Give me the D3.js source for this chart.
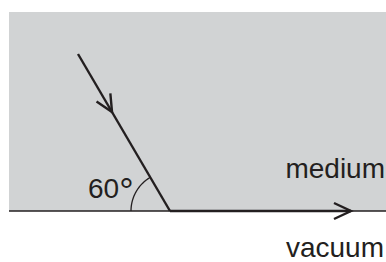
<!DOCTYPE html>
<html>
<head>
<meta charset="utf-8">
<script src="https://cdn.jsdelivr.net/npm/d3@7"></script>
<style>
  body { margin: 0; padding: 0; background: #fff; }
  svg { display: block; }
  text { font-family: "Liberation Sans", Arial, sans-serif; fill: #231f20; }
</style>
</head>
<body>
<svg id="diagram" width="386" height="262"></svg>
<script>
// diagram values (units: px-like diagram units, origin at point of incidence)
const mediumBox = [-161, 216, 0, 199];      // xmin, xmax, ymin, ymax of shaded medium
const incidentStart = [-92, 157];          // start of incoming ray
const refractedEnd = [181, 0];             // end of ray along the boundary
const angleDeg = 60;                        // angle between ray and boundary
const arcRadius = 39;
const labels = ["60", "°", "medium", "vacuum"];

const svg = d3.select("#diagram");
const x = d3.scaleLinear().domain([mediumBox[0], mediumBox[1]]).range([9, 386]);
const y = d3.scaleLinear().domain([mediumBox[2], mediumBox[3]]).range([211, 12]);
const ink = "#231f20";

// shaded medium
svg.append("rect")
  .attr("x", x(mediumBox[0])).attr("y", y(mediumBox[3]))
  .attr("width", x(mediumBox[1]) - x(mediumBox[0]))
  .attr("height", y(mediumBox[2]) - y(mediumBox[3]))
  .attr("fill", "#d1d3d4");

// boundary
svg.append("line")
  .attr("x1", x(mediumBox[0])).attr("x2", x(mediumBox[1]))
  .attr("y1", y(0)).attr("y2", y(0))
  .attr("stroke", ink).attr("stroke-width", 1.3);

// incident ray
svg.append("line")
  .attr("x1", x(incidentStart[0])).attr("y1", y(incidentStart[1]))
  .attr("x2", x(0)).attr("y2", y(0))
  .attr("stroke", ink).attr("stroke-width", 2.4);

// ray along boundary
svg.append("line")
  .attr("x1", x(0)).attr("y1", y(0))
  .attr("x2", x(refractedEnd[0])).attr("y2", y(refractedEnd[1]))
  .attr("stroke", ink).attr("stroke-width", 2.6);

// open arrowheads
function arrowHead(px, py, dx, dy) {
  const len = Math.hypot(dx, dy), ux = dx / len, uy = dy / len;
  const back = 17, half = 8;
  const bx = px - ux * back, by = py - uy * back;
  const pts = [[bx - uy * half, by + ux * half], [px, py], [bx + uy * half, by - ux * half]];
  svg.append("path")
    .attr("d", d3.line()(pts))
    .attr("fill", "none").attr("stroke", ink)
    .attr("stroke-width", 2.4).attr("stroke-linejoin", "miter");
}
const sx = x(incidentStart[0]), sy = y(incidentStart[1]);
const ex = x(0), ey = y(0);
const f = 0.37;
arrowHead(sx + (ex - sx) * f, sy + (ey - sy) * f, ex - sx, ey - sy);
arrowHead(x(refractedEnd[0]), y(refractedEnd[1]), 1, 0);

// angle arc
const a0 = Math.PI, a1 = Math.PI - angleDeg * Math.PI / 180;
const arcPts = d3.range(0, 41).map(i => {
  const a = a0 + (a1 - a0) * i / 40;
  return [ex + arcRadius * Math.cos(a), ey - arcRadius * Math.sin(a)];
});
svg.append("path")
  .attr("d", d3.line()(arcPts))
  .attr("fill", "none").attr("stroke", ink).attr("stroke-width", 1.3);

// labels
const angleLabel = svg.append("text").attr("x", 88).attr("y", 198).attr("font-size", 28);
angleLabel.append("tspan").text(labels[0]);
angleLabel.append("tspan").attr("font-size", 36).attr("dy", 6).attr("dx", 0).text(labels[1]);
svg.append("text").attr("x", 385).attr("y", 178).attr("text-anchor", "end")
  .attr("font-size", 28).text(labels[2]);
svg.append("text").attr("x", 384).attr("y", 257).attr("text-anchor", "end")
  .attr("font-size", 28).text(labels[3]);
</script>
</body>
</html>
